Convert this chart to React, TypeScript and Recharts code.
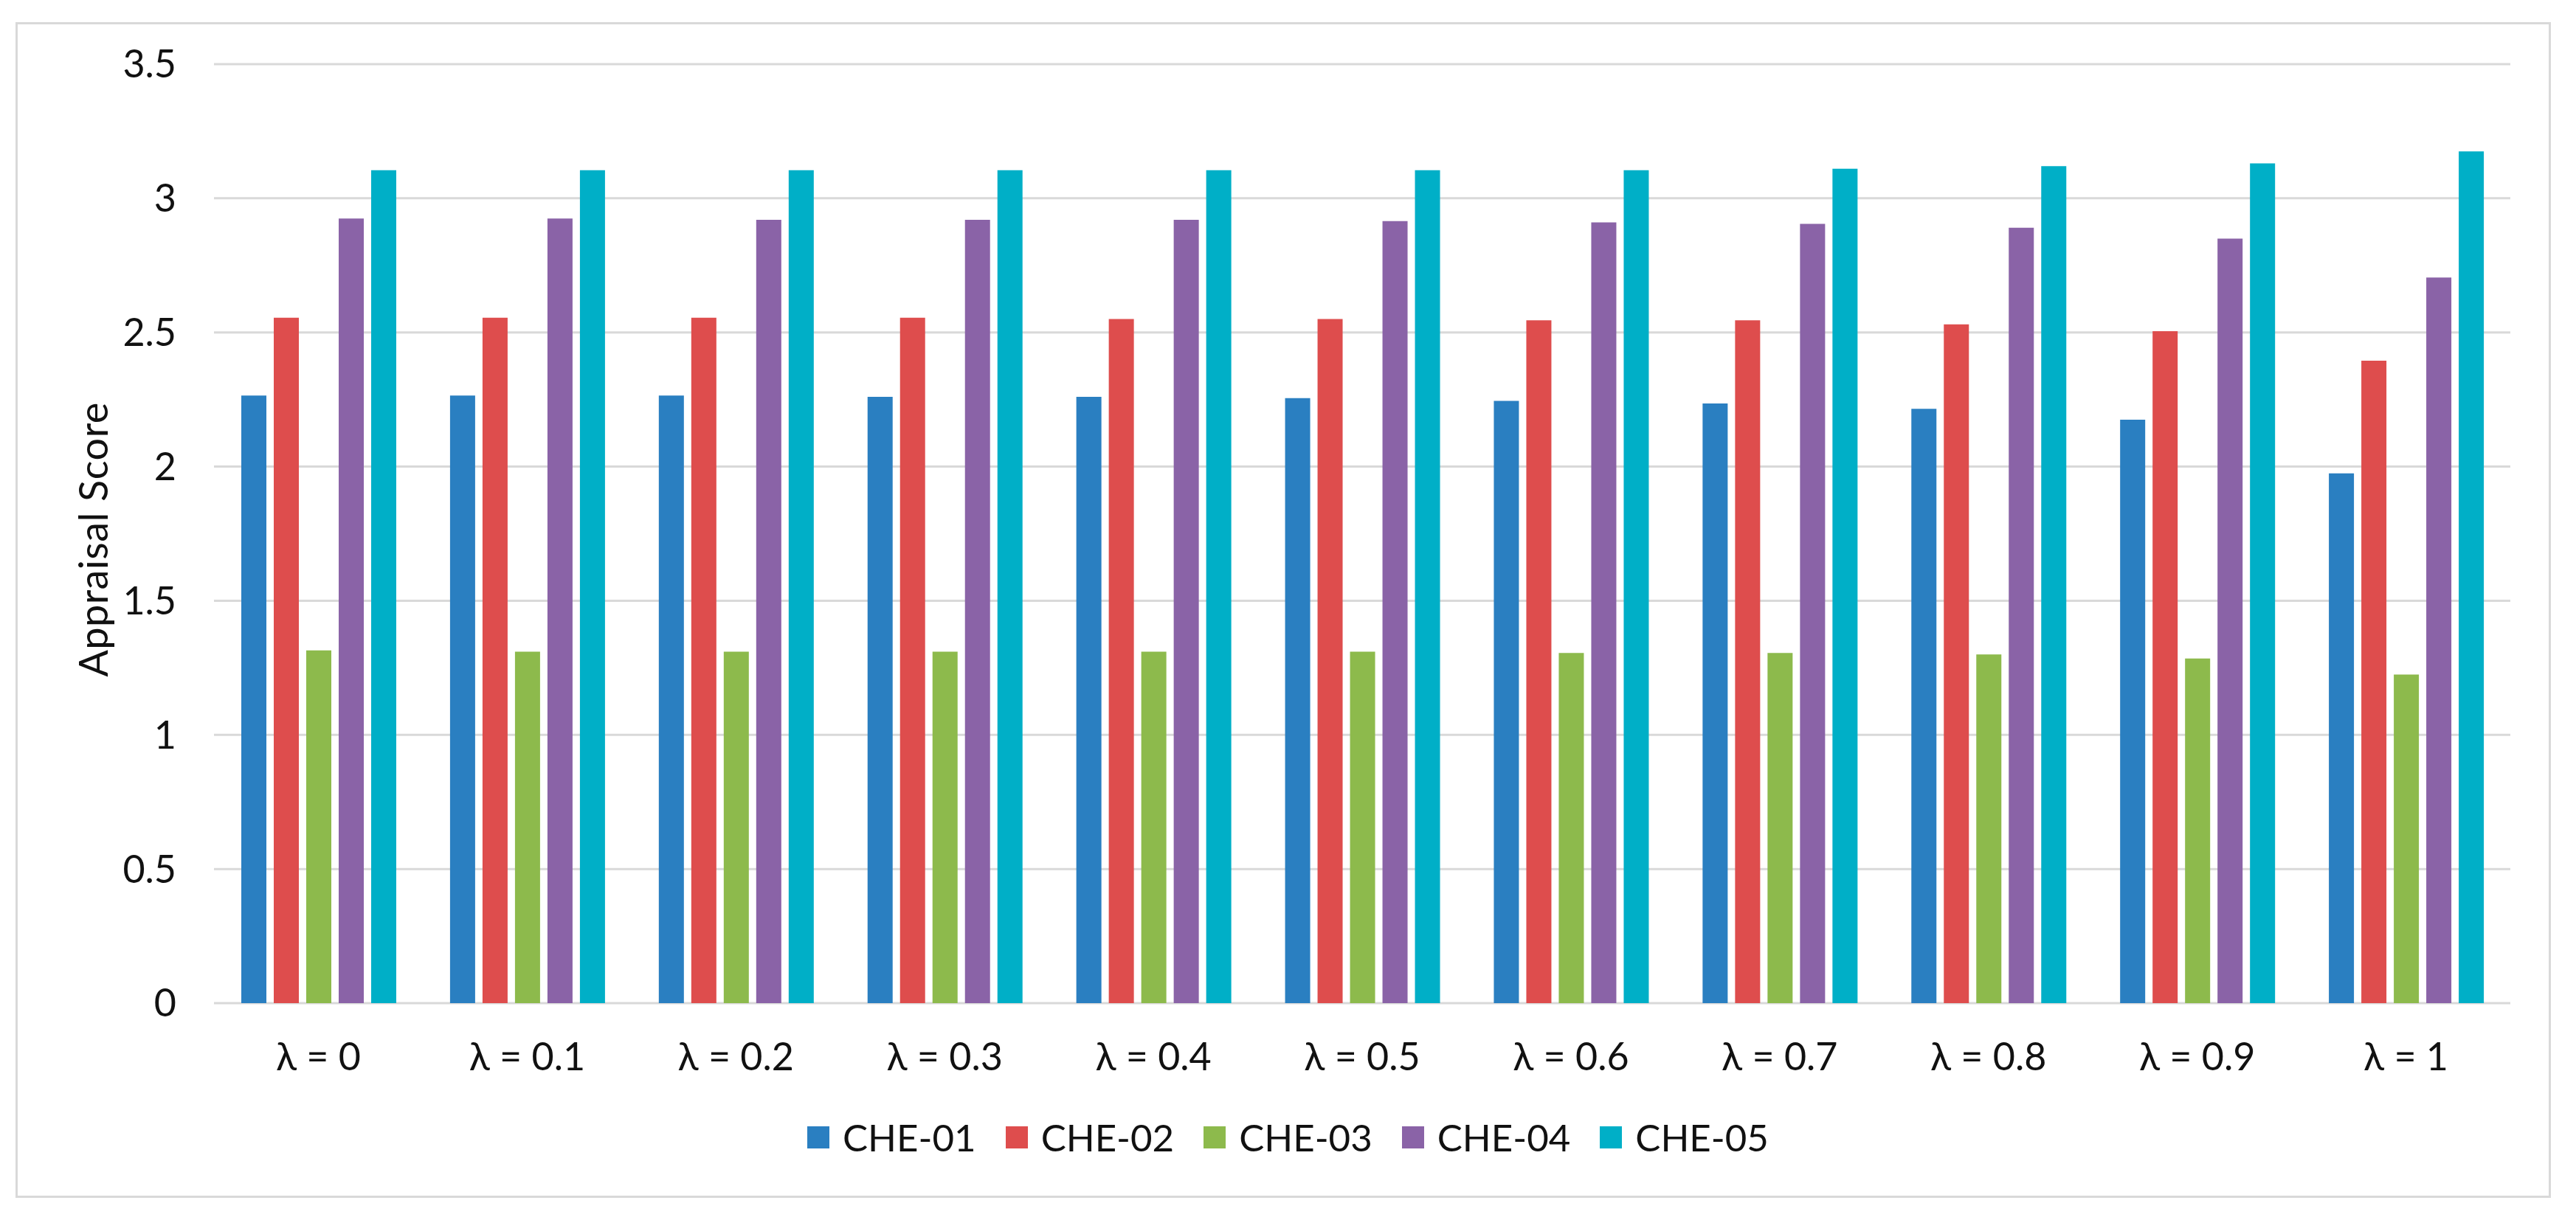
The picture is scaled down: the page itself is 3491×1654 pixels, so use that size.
import { BarChart, Bar, XAxis, YAxis, CartesianGrid, Legend } from "recharts";

const categories = ["λ = 0", "λ = 0.1", "λ = 0.2", "λ = 0.3", "λ = 0.4", "λ = 0.5", "λ = 0.6", "λ = 0.7", "λ = 0.8", "λ = 0.9", "λ = 1"];

const che01 = [2.265, 2.265, 2.265, 2.26, 2.26, 2.255, 2.245, 2.235, 2.215, 2.175, 1.975];
const che02 = [2.555, 2.555, 2.555, 2.555, 2.55, 2.55, 2.545, 2.545, 2.53, 2.505, 2.395];
const che03 = [1.315, 1.31, 1.31, 1.31, 1.31, 1.31, 1.305, 1.305, 1.3, 1.285, 1.225];
const che04 = [2.925, 2.925, 2.92, 2.92, 2.92, 2.915, 2.91, 2.905, 2.89, 2.85, 2.705];
const che05 = [3.105, 3.105, 3.105, 3.105, 3.105, 3.105, 3.105, 3.11, 3.12, 3.13, 3.175];

const yTicks = [0, 0.5, 1, 1.5, 2, 2.5, 3, 3.5];

const series = [
    { key: "CHE-01", values: che01, color: "#2A7FC1" },
    { key: "CHE-02", values: che02, color: "#DE4D4D" },
    { key: "CHE-03", values: che03, color: "#8DBA4C" },
    { key: "CHE-04", values: che04, color: "#8A63A7" },
    { key: "CHE-05", values: che05, color: "#00AFC7" },
];

const data = categories.map((name, i) => {
    const row: any = { name };
    series.forEach((s) => {
        row[s.key] = s.values[i];
    });
    return row;
});

const FONT = "Lato, 'Noto Sans', sans-serif";
const TEXT = "#111";

const renderLegend = () => (
    <div style={{ display: "flex", justifyContent: "center", alignItems: "center", height: 60, fontFamily: FONT }}>
        {series.map((s) => (
            <div key={s.key} style={{ display: "flex", alignItems: "center", margin: "0 20px" }}>
                <div style={{ width: 30, height: 30, background: s.color, marginRight: 18 }} />
                <span style={{ fontSize: 51, color: TEXT, lineHeight: "60px" }}>{s.key}</span>
            </div>
        ))}
    </div>
);

const YLabel = ({ viewBox }: any) => {
    const cx = 125;
    const cy = viewBox.y + viewBox.height / 2 + 8;
    return (
        <text
            x={cx}
            y={cy}
            transform={`rotate(-90, ${cx}, ${cy})`}
            textAnchor="middle"
            dominantBaseline="central"
            fontFamily={FONT}
            fontSize={54}
            letterSpacing={0.5}
            fill={TEXT}
        >
            Appraisal Score
        </text>
    );
};

export default function App() {
    return (
        <div style={{ position: "fixed", left: 0, top: 0, width: 3491, height: 1654, background: "#fff" }}>
            <div
                style={{
                    position: "absolute",
                    left: 21,
                    top: 30,
                    width: 3430,
                    height: 1588,
                    border: "3px solid #d9d9d9",
                }}
            />
            <BarChart
                width={3491}
                height={1654}
                data={data}
                margin={{ top: 87, right: 89, left: 0, bottom: 114 }}
                barCategoryGap={37}
                barGap={10}
            >
                <CartesianGrid vertical={false} stroke="#d9d9d9" strokeWidth={3} />
                <XAxis
                    dataKey="name"
                    axisLine={false}
                    tickLine={false}
                    tickSize={0}
                    tickMargin={54}
                    height={120}
                    interval={0}
                    tick={{ fill: TEXT, fontSize: 52, fontFamily: FONT }}
                />
                <YAxis
                    domain={[0, 3.5]}
                    ticks={yTicks}
                    width={290}
                    axisLine={false}
                    tickLine={false}
                    tickSize={0}
                    tickMargin={51}
                    tick={{ fill: TEXT, fontSize: 52, fontFamily: FONT }}
                    label={<YLabel />}
                />
                <Legend
                    verticalAlign="bottom"
                    content={renderLegend}
                    wrapperStyle={{ left: 0, width: 3491, top: 1512, bottom: "auto", height: 60 }}
                />
                {series.map((s) => (
                    <Bar key={s.key} dataKey={s.key} fill={s.color} isAnimationActive={false} />
                ))}
            </BarChart>
        </div>
    );
}
